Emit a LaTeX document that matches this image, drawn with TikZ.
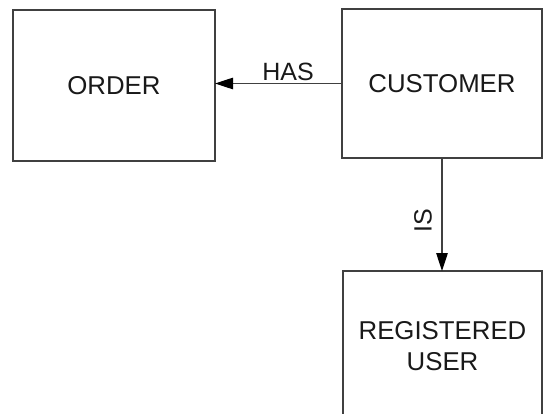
\documentclass[tikz,border=0pt]{standalone}
\usepackage{fontspec}
\setmainfont{Liberation Sans}
\usetikzlibrary{arrows.meta}
\begin{document}
\begin{tikzpicture}[x=1pt,y=-1pt,
  entity/.style={draw=black!75,line width=1.6pt,fill=white,inner sep=0pt,outer sep=0pt,
    align=center,font=\fontsize{25.8}{31.5}\selectfont,text=black!90},
  conn/.style={draw=black!75,line width=1.1pt,-{Triangle[length=18pt,width=11.5pt,color=black]}},
  lbl/.style={font=\fontsize{25}{29}\selectfont,text=black!90,inner sep=0pt}]
\useasboundingbox (0,0) rectangle (543,414);
\clip (0,0) rectangle (543,414);
\node[entity,minimum width=202pt,minimum height=151pt] (order) at (114,85.5) {ORDER};
\node[entity,minimum width=200pt,minimum height=149pt] (customer) at (442,83.5) {CUSTOMER};
\node[entity,minimum width=199pt,minimum height=150pt] (reg) at (442.5,346) {REGISTERED\\USER};
\draw[conn] (customer.west) -- (customer.west -| order.east);
\draw[conn] (customer.south) -- (customer.south |- reg.north);
\node[lbl] (has) at (288,71.5) {HAS};
\node[lbl,rotate=90] (is) at (423,220.5) {IS};
\end{tikzpicture}
\end{document}
